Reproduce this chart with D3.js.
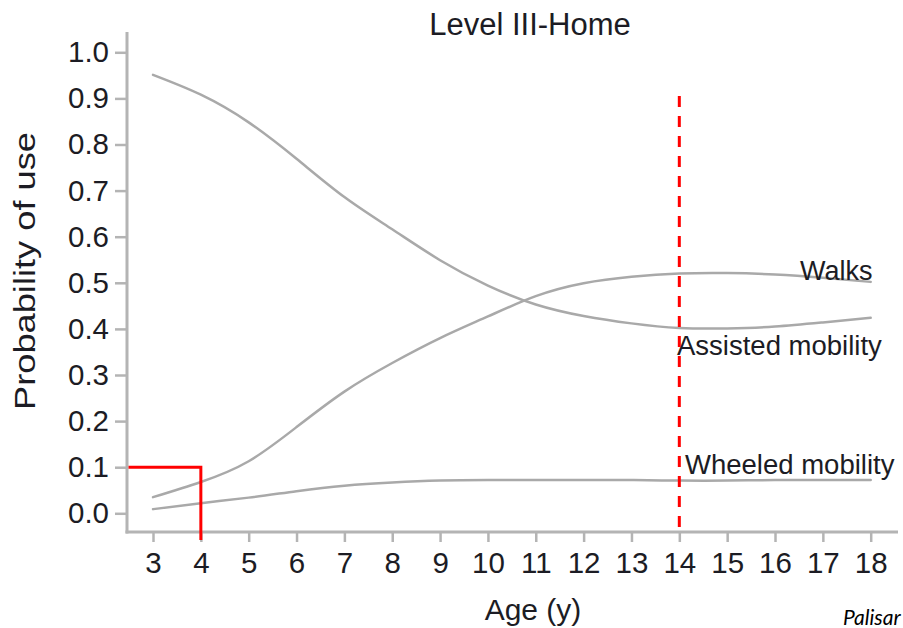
<!DOCTYPE html>
<html>
<head>
<meta charset="utf-8">
<script src="https://cdn.jsdelivr.net/npm/d3@7"></script>
<style>
  html, body { margin: 0; padding: 0; background: #fff; }
  svg { display: block; }
  text { font-family: "Liberation Sans", Arial, Helvetica, sans-serif; fill: #1c1c24; }
</style>
</head>
<body>
<svg id="chart" width="903" height="628"></svg>
<script>
// Age in years
const ages = [3, 4, 5, 6, 7, 8, 9, 10, 11, 12, 13, 14, 15, 16, 17, 18];

// Probability of use by mobility method
const walks    = [0.035, 0.068, 0.113, 0.187, 0.264, 0.326, 0.380, 0.427, 0.471, 0.499, 0.513, 0.520, 0.521, 0.518, 0.511, 0.502];
const assisted = [0.951, 0.908, 0.848, 0.769, 0.686, 0.616, 0.549, 0.494, 0.453, 0.428, 0.412, 0.402, 0.401, 0.405, 0.414, 0.424];
const wheeled  = [0.009, 0.022, 0.034, 0.048, 0.060, 0.067, 0.071, 0.072, 0.072, 0.072, 0.072, 0.071, 0.071, 0.072, 0.072, 0.072];

const seriesNames = ["Walks", "Assisted mobility", "Wheeled mobility"];
const yTicks = [0, 0.1, 0.2, 0.3, 0.4, 0.5, 0.6, 0.7, 0.8, 0.9, 1.0];

// Reference markers
const markerAge = 4;
const markerProb = 0.1;
const cutoffAge = 14;

const svg = d3.select("#chart");

const x = d3.scaleLinear().domain([3, 18]).range([153, 870.7]);
const y = d3.scaleLinear().domain([0, 1]).range([513.3, 52.3]);

const axisColor = "#b4b4b4";
const curveColor = "#a9a9a9";

// Axis frame lines (extend beyond the data range)
const xLeft = 127, xRight = 898, yTop = 32, yBottom = 532;
svg.append("line").attr("x1", xLeft).attr("x2", xLeft).attr("y1", yTop).attr("y2", yBottom + 1.5)
  .attr("stroke", axisColor).attr("stroke-width", 3);
svg.append("line").attr("x1", xLeft - 1.5).attr("x2", xRight).attr("y1", yBottom).attr("y2", yBottom)
  .attr("stroke", axisColor).attr("stroke-width", 3);

// Y axis
const yAxis = svg.append("g").attr("transform", `translate(${xLeft},0)`)
  .call(d3.axisLeft(y).tickValues(yTicks).tickFormat(d3.format(".1f")).tickSize(12).tickPadding(6));
yAxis.select(".domain").remove();
yAxis.selectAll(".tick line").attr("stroke", axisColor).attr("stroke-width", 2.5);
yAxis.selectAll(".tick text").attr("font-size", 29.5).attr("font-family", "Liberation Sans, Arial, sans-serif").attr("fill", "#1c1c24");

// X axis
const xAxis = svg.append("g").attr("transform", `translate(0,${yBottom})`)
  .call(d3.axisBottom(x).tickValues(ages).tickFormat(d3.format("d")).tickSize(10).tickPadding(10));
xAxis.select(".domain").remove();
xAxis.selectAll(".tick line").attr("stroke", axisColor).attr("stroke-width", 2.5);
xAxis.selectAll(".tick text").attr("font-size", 29.5).attr("font-family", "Liberation Sans, Arial, sans-serif").attr("fill", "#1c1c24");

// Curves
const line = d3.line()
  .x((d, i) => x(ages[i]))
  .y(d => y(d))
  .curve(d3.curveNatural);

[walks, assisted, wheeled].forEach(vals => {
  svg.append("path")
    .datum(vals)
    .attr("d", line)
    .attr("fill", "none")
    .attr("stroke", curveColor)
    .attr("stroke-width", 2.5)
    .attr("stroke-linecap", "round");
});

// Red marker at age 4 / probability 0.1
svg.append("path")
  .attr("d", `M${xLeft + 1.5},${y(markerProb)} H${x(markerAge)} V${yBottom + 8}`)
  .attr("fill", "none")
  .attr("stroke", "#ff0000")
  .attr("stroke-width", 3);

// Dashed cutoff at age 14
svg.append("line")
  .attr("x1", x(cutoffAge)).attr("x2", x(cutoffAge))
  .attr("y1", 96).attr("y2", 528)
  .attr("stroke", "#ff0000")
  .attr("stroke-width", 3)
  .attr("stroke-dasharray", "11 9");

// Series labels
svg.append("text").attr("x", 800).attr("y", 280).attr("font-size", 27).text(seriesNames[0]);
svg.append("text").attr("x", 677).attr("y", 355).attr("font-size", 27.5).text(seriesNames[1]);
svg.append("text").attr("x", 685).attr("y", 474).attr("font-size", 27.5).text(seriesNames[2]);

// Title
svg.append("text").attr("x", 530).attr("y", 35).attr("text-anchor", "middle")
  .attr("font-size", 31).text("Level III-Home");

// Axis titles
svg.append("text").attr("x", 533).attr("y", 620).attr("text-anchor", "middle")
  .attr("font-size", 30).text("Age (y)");
svg.append("text")
  .attr("transform", "translate(35,271) rotate(-90)")
  .attr("text-anchor", "middle")
  .attr("font-size", 29)
  .attr("textLength", 278)
  .attr("lengthAdjust", "spacingAndGlyphs")
  .text("Probability of use");

// Source note (truncated at the right edge)
svg.append("text").attr("x", 843).attr("y", 625)
  .attr("font-size", 21)
  .attr("font-style", "italic")
  .style("font-family", "Lato, 'Open Sans', sans-serif")
  .style("fill", "#000")
  .text("Palisar");
</script>
</body>
</html>
